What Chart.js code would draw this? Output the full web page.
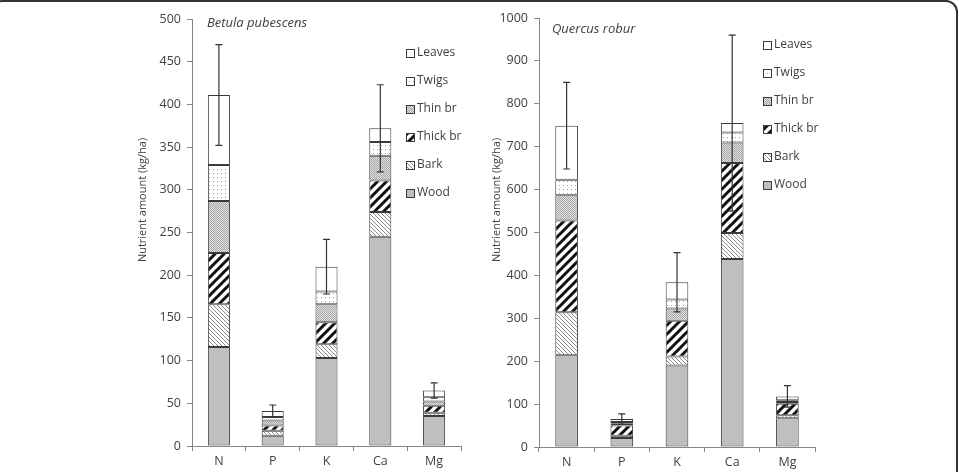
<!DOCTYPE html>
<html>
<head>
<meta charset="utf-8">
<script src="https://cdn.jsdelivr.net/npm/chart.js@4.4.0/dist/chart.umd.min.js"></script>
<style>
  html, body { margin:0; padding:0; background:#fff; width:959px; height:472px; overflow:hidden; position:relative; }
  .frame { position:absolute; left:-10px; top:0; width:968px; height:600px; border:2px solid #333; border-radius:12px; box-sizing:border-box; }
  #left { position:absolute; left:100px; top:0; }
  #right { position:absolute; left:470px; top:0; }
</style>
</head>
<body>
<div class="frame"></div>
<canvas id="left" width="380" height="472"></canvas>
<canvas id="right" width="370" height="472"></canvas>
<script>
const categories = ['N', 'P', 'K', 'Ca', 'Mg'];
const parts = ['Wood', 'Bark', 'Thick br', 'Thin br', 'Twigs', 'Leaves'];

// Betula pubescens (kg/ha)
const betulaWood   = [116, 12, 103, 245, 35];
const betulaBark   = [50, 6, 16, 29, 4];
const betulaThick  = [60, 6, 26, 37, 8];
const betulaThin   = [61, 6, 21, 29, 5];
const betulaTwigs  = [42, 4, 15, 16, 5];
const betulaLeaves = [82, 7, 29, 16, 8];
const betulaErr    = [59, 7, 32, 51, 9];

// Quercus robur (kg/ha)
const quercusWood   = [215, 21, 190, 438, 67];
const quercusBark   = [99, 5, 21, 61, 7];
const quercusThick  = [214, 24, 83, 163, 27];
const quercusThin   = [59, 4, 29, 48, 4];
const quercusTwigs  = [36, 4, 21, 23, 4];
const quercusLeaves = [126, 7, 40, 22, 9];
const quercusErr    = [101, 12, 69, 205, 25];

const FONT = "'Open Sans', 'DejaVu Sans', sans-serif";
const TEXT = '#404040';
const AXIS = '#868686';
const EDGE = '#3a3a3a';

function tile(w, h, draw) {
  const c = document.createElement('canvas');
  c.width = w; c.height = h;
  const g = c.getContext('2d');
  draw(g, w, h);
  return g.createPattern(c, 'repeat');
}

const fills = {
  'Wood': '#bfbfbf',
  'Bark': tile(4, 4, (g) => {
    g.fillStyle = '#fff'; g.fillRect(0, 0, 4, 4);
    g.fillStyle = '#8a8a8a';
    for (let i = 0; i < 4; i++) g.fillRect(i, i, 1, 1);
  }),
  'Thick br': tile(9, 9, (g) => {
    g.fillStyle = '#fff'; g.fillRect(0, 0, 9, 9);
    g.strokeStyle = '#111'; g.lineWidth = 3;
    g.beginPath();
    g.moveTo(-2, 11); g.lineTo(11, -2);
    g.moveTo(-11, 11); g.lineTo(2, -2);
    g.moveTo(7, 11); g.lineTo(20, -2);
    g.stroke();
  }),
  'Thin br': tile(2, 2, (g) => {
    g.fillStyle = '#e0e0e0'; g.fillRect(0, 0, 2, 2);
    g.fillStyle = '#a8a8a8'; g.fillRect(0, 0, 1, 1); g.fillRect(1, 1, 1, 1);
  }),
  'Twigs': tile(4, 4, (g) => {
    g.fillStyle = '#fff'; g.fillRect(0, 0, 4, 4);
    g.fillStyle = '#a0a0a0'; g.fillRect(1, 1, 1, 1);
  }),
  'Leaves': '#ffffff'
};

const extras = {
  id: 'extras',
  afterDatasetsDraw(chart, args, opts) {
    const ctx = chart.ctx;
    const x = chart.scales.x, y = chart.scales.y;
    const totals = categories.map((c, i) => chart.data.datasets.reduce((s, d) => s + d.data[i], 0));
    ctx.save();
    ctx.strokeStyle = '#333';
    ctx.lineWidth = 1.2;
    totals.forEach((t, i) => {
      const px = x.getPixelForValue(i);
      const yt = y.getPixelForValue(t + opts.errors[i]);
      const yb = y.getPixelForValue(t - opts.errors[i]);
      ctx.beginPath();
      ctx.moveTo(px, yt); ctx.lineTo(px, yb);
      ctx.moveTo(px - 3.5, yt); ctx.lineTo(px + 3.5, yt);
      ctx.moveTo(px - 3.5, yb); ctx.lineTo(px + 3.5, yb);
      ctx.stroke();
    });
    ctx.restore();
  },
  afterDraw(chart, args, opts) {
    const ctx = chart.ctx;
    ctx.save();
    ctx.fillStyle = TEXT;
    ctx.font = 'italic 13px ' + FONT;
    ctx.textBaseline = 'middle';
    ctx.textAlign = 'left';
    ctx.fillText(opts.title, opts.titleX, opts.titleY);

    ctx.save();
    ctx.translate(opts.axisX, opts.axisY);
    ctx.rotate(-Math.PI / 2);
    ctx.textAlign = 'center';
    ctx.font = '11px ' + FONT;
    ctx.fillText('Nutrient amount (kg/ha)', 0, 0);
    ctx.restore();

    ctx.font = '12px ' + FONT;
    chart.data.datasets.slice().reverse().forEach((d, k) => {
      const yy = opts.legendY + k * 28;
      ctx.fillStyle = d.backgroundColor;
      ctx.fillRect(opts.legendX, yy - 4, 8, 8);
      ctx.strokeStyle = EDGE;
      ctx.lineWidth = 1;
      ctx.strokeRect(opts.legendX + 0.5, yy - 3.5, 8, 8);
      ctx.fillStyle = TEXT;
      ctx.fillText(d.label, opts.legendX + 11, yy);
    });
    ctx.restore();
  }
};

function makeChart(id, series, err, cfg) {
  new Chart(document.getElementById(id), {
    type: 'bar',
    data: {
      labels: categories,
      datasets: parts.map((p, i) => ({
        label: p,
        data: series[i],
        backgroundColor: fills[p],
        borderColor: EDGE,
        borderWidth: 1,
        borderSkipped: false,
        barPercentage: 0.41,
        categoryPercentage: 1
      }))
    },
    options: {
      responsive: false,
      animation: false,
      layout: { padding: { left: 0, right: cfg.padRight, top: cfg.top, bottom: 0 } },
      plugins: {
        legend: { display: false },
        tooltip: { enabled: false },
        extras: Object.assign({ errors: err }, cfg.extras)
      },
      scales: {
        x: {
          stacked: true,
          offset: true,
          border: { color: AXIS, width: 1 },
          grid: { offset: true, drawOnChartArea: false, drawTicks: true, tickLength: 5, color: AXIS },
          ticks: { color: TEXT, font: { family: FONT, size: 12.5 }, padding: 3 },
          afterFit: (s) => { s.height = cfg.xHeight; }
        },
        y: {
          stacked: true,
          min: 0,
          max: cfg.max,
          border: { color: AXIS, width: 1 },
          grid: { drawOnChartArea: false, drawTicks: true, tickLength: 5, color: AXIS },
          ticks: { stepSize: cfg.step, color: TEXT, font: { family: FONT, size: 12.5 }, padding: 6,
                   callback: (v) => String(v) },
          afterFit: (s) => { s.width = cfg.yWidth; }
        }
      }
    },
    plugins: [extras]
  });
}

makeChart('left',
  [betulaWood, betulaBark, betulaThick, betulaThin, betulaTwigs, betulaLeaves],
  betulaErr,
  { max: 500, step: 50, yWidth: 92, padRight: 19, top: 19, xHeight: 26,
    extras: { title: 'Betula pubescens', titleX: 107, titleY: 23, axisX: 43, axisY: 200, legendX: 306, legendY: 53 } });

makeChart('right',
  [quercusWood, quercusBark, quercusThick, quercusThin, quercusTwigs, quercusLeaves],
  quercusErr,
  { max: 1000, step: 100, yWidth: 69, padRight: 25, top: 18, xHeight: 25,
    extras: { title: 'Quercus robur', titleX: 82, titleY: 29, axisX: 27, axisY: 200, legendX: 293, legendY: 45 } });
</script>
</body>
</html>
